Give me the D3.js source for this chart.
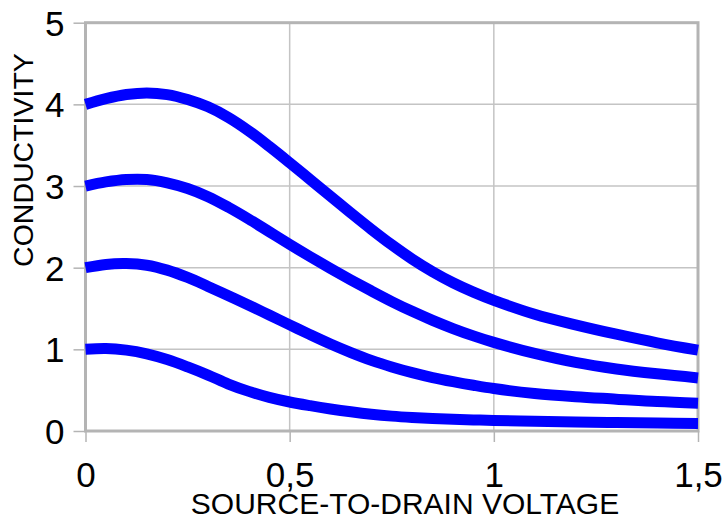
<!DOCTYPE html>
<html>
<head>
<meta charset="utf-8">
<script src="https://cdn.jsdelivr.net/npm/d3@7"></script>
<style>
  html, body { margin: 0; padding: 0; background: #ffffff; }
  svg { display: block; }
  text { font-family: "Liberation Sans", Arial, sans-serif; fill: #000; }
</style>
</head>
<body>
<svg id="chart" width="727" height="523"></svg>
<script>
// ---- data ----
const voltage = [0, 0.05, 0.1, 0.15, 0.2, 0.25, 0.3, 0.35, 0.4, 0.45, 0.5, 0.55, 0.6, 0.65, 0.7, 0.75, 0.8, 0.85, 0.9, 0.95, 1.0, 1.1, 1.2, 1.3, 1.4, 1.5];
const curve4 = [4.00, 4.07, 4.12, 4.14, 4.12, 4.06, 3.97, 3.84, 3.675, 3.485, 3.285, 3.08, 2.875, 2.67, 2.47, 2.28, 2.105, 1.95, 1.815, 1.70, 1.60, 1.43, 1.30, 1.185, 1.08, 0.99];
const curve3 = [3.00, 3.05, 3.08, 3.08, 3.04, 2.97, 2.87, 2.74, 2.595, 2.44, 2.285, 2.135, 1.99, 1.85, 1.715, 1.585, 1.465, 1.355, 1.255, 1.165, 1.085, 0.95, 0.84, 0.76, 0.70, 0.65];
const curve2 = [2.00, 2.04, 2.05, 2.03, 1.97, 1.88, 1.77, 1.655, 1.54, 1.42, 1.30, 1.18, 1.065, 0.96, 0.865, 0.785, 0.715, 0.655, 0.605, 0.56, 0.52, 0.46, 0.42, 0.39, 0.36, 0.34];
const curve1 = [1.00, 1.01, 0.99, 0.945, 0.875, 0.785, 0.685, 0.575, 0.485, 0.412, 0.355, 0.31, 0.27, 0.235, 0.205, 0.182, 0.165, 0.152, 0.143, 0.136, 0.13, 0.12, 0.11, 0.103, 0.097, 0.093];
const seriesList = [curve1, curve2, curve3, curve4];
const xTicks = [0, 0.5, 1, 1.5];
const xTickLabels = ["0", "0,5", "1", "1,5"];
const yTicks = [0, 1, 2, 3, 4, 5];
const yTickLabels = ["0", "1", "2", "3", "4", "5"];
const xTitle = "SOURCE-TO-DRAIN VOLTAGE";
const yTitle = "CONDUCTIVITY";

// ---- layout ----
const svg = d3.select("#chart");
const pLeft = 85.5, pRight = 698, pTop = 22.7, pBottom = 431;
const x = d3.scaleLinear().domain([0, 1.5]).range([pLeft, pRight]);
const y = d3.scaleLinear().domain([0, 5]).range([pBottom, pTop]);

// gridlines
const grid = svg.append("g");
grid.selectAll("line.h").data(yTicks).enter().append("line")
  .attr("x1", pLeft).attr("x2", pRight)
  .attr("y1", d => y(d)).attr("y2", d => y(d))
  .attr("stroke", "#c4c4c4").attr("stroke-width", 1.5);
grid.selectAll("line.v").data(xTicks).enter().append("line")
  .attr("y1", pTop).attr("y2", pBottom)
  .attr("x1", d => x(d)).attr("x2", d => x(d))
  .attr("stroke", "#c4c4c4").attr("stroke-width", 1.5);

// plot border
svg.append("rect")
  .attr("x", pLeft).attr("y", pTop)
  .attr("width", pRight - pLeft).attr("height", pBottom - pTop)
  .attr("fill", "none").attr("stroke", "#b4b4b4").attr("stroke-width", 3);

// axes with outward ticks
const yAxis = d3.axisLeft(y).tickValues(yTicks).tickSize(12).tickFormat((d, i) => yTickLabels[i]);
const gy = svg.append("g").attr("transform", `translate(${pLeft},0)`).call(yAxis);
gy.select(".domain").remove();
gy.selectAll(".tick line").attr("stroke", "#b4b4b4").attr("stroke-width", 1.5);
gy.selectAll(".tick text")
  .attr("x", -21).attr("dy", "0.36em")
  .style("font-size", "35px")
  .style("font-family", "'Liberation Sans', Arial, sans-serif")
  .attr("fill", "#000");

const xAxis = d3.axisBottom(x).tickValues(xTicks).tickSize(11).tickFormat((d, i) => xTickLabels[i]);
const gx = svg.append("g").attr("transform", `translate(0,${pBottom})`).call(xAxis);
gx.select(".domain").remove();
gx.selectAll(".tick line").attr("stroke", "#b4b4b4").attr("stroke-width", 1.5);
gx.selectAll(".tick text")
  .attr("y", 56).attr("dy", 0)
  .style("font-size", "35px")
  .style("font-family", "'Liberation Sans', Arial, sans-serif")
  .attr("fill", "#000");

// curves
const line = d3.line()
  .x((d, i) => x(voltage[i]))
  .y(d => y(d))
  .curve(d3.curveCatmullRom.alpha(0.5));
svg.append("g").selectAll("path").data(seriesList).enter().append("path")
  .attr("d", d => line(d))
  .attr("fill", "none")
  .attr("stroke", "#0000ff")
  .attr("stroke-width", 11)
  .attr("stroke-linecap", "butt");

// titles
svg.append("text")
  .attr("x", 405).attr("y", 514)
  .attr("text-anchor", "middle")
  .style("font-size", "30px")
  .text(xTitle);
svg.append("text")
  .attr("transform", "translate(33,160) rotate(-90)")
  .attr("text-anchor", "middle")
  .style("font-size", "28.5px")
  .text(yTitle);
</script>
</body>
</html>
